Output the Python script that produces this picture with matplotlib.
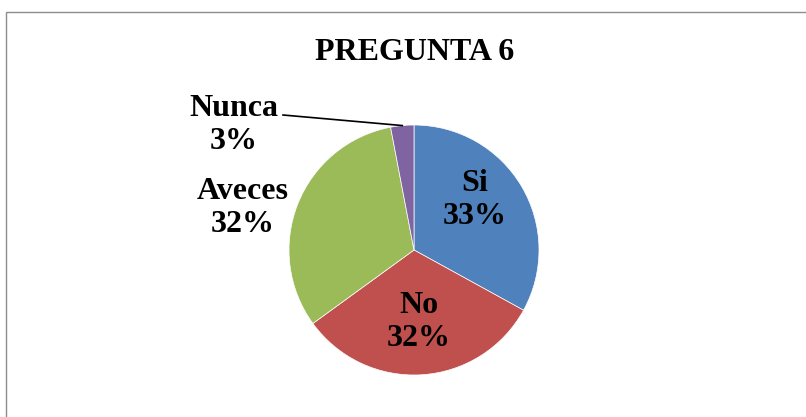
import numpy as np
import matplotlib.pyplot as plt
from matplotlib.patches import Rectangle

# --------------------------
# Data
# --------------------------
categories = ["Si", "No", "Aveces", "Nunca"]
values = [33, 32, 32, 3]
pct_labels = ["33%", "32%", "32%", "3%"]
colors = ["#4F81BD", "#C0504D", "#9BBB59", "#8064A2"]

W, H = 806, 417
CX, CY, R = 414, 250, 125  # pie centre / radius in pixels

fig = plt.figure(figsize=(W / 100, H / 100), dpi=100)
ax = fig.add_axes([0, 0, 1, 1])

ax.pie(values, colors=colors, startangle=90, counterclock=False,
       radius=1.0, wedgeprops=dict(edgecolor="white", linewidth=0.5))

# pie() resets the limits, so set them afterwards
ax.set_xlim(-CX / R, (W - CX) / R)
ax.set_ylim(-(H - CY) / R, CY / R)
ax.set_aspect("equal")
ax.axis("off")

font = dict(family="Liberation Serif", weight="bold", size=23, color="black")


def px(x, y):
    return (x - CX) / R, (CY - y) / R


# label positions (pixels)
label_pos = {
    "Si": (475, 200),
    "No": (419, 322),
    "Aveces": (243, 208),
    "Nunca": (234, 125),
}
for cat, pct in zip(categories, pct_labels):
    x, y = px(*label_pos[cat])
    ax.text(x, y, f"{cat}\n{pct}", ha="center", va="center",
            linespacing=1.2, **font)

# leader line for the small slice
total = sum(values)
start = 90 - 360 * sum(values[:3]) / total
mid = np.deg2rad(start - 360 * values[3] / total / 2)
ex, ey = np.cos(mid), np.sin(mid)
lx, ly = px(283, 115)
ax.plot([lx, ex], [ly, ey], color="black", lw=1.2)

ax.text(*px(415, 52), "PREGUNTA 6", ha="center", va="center", **font)

# chart border (only top/left visible in the reference)
fig.patches.append(Rectangle((6 / W, -0.05), 1.1, 1 - 12 / H + 0.05,
                             transform=fig.transFigure, fill=False,
                             edgecolor="#8c8c8c", lw=1.0))

fig.savefig("out.png", dpi=100)
